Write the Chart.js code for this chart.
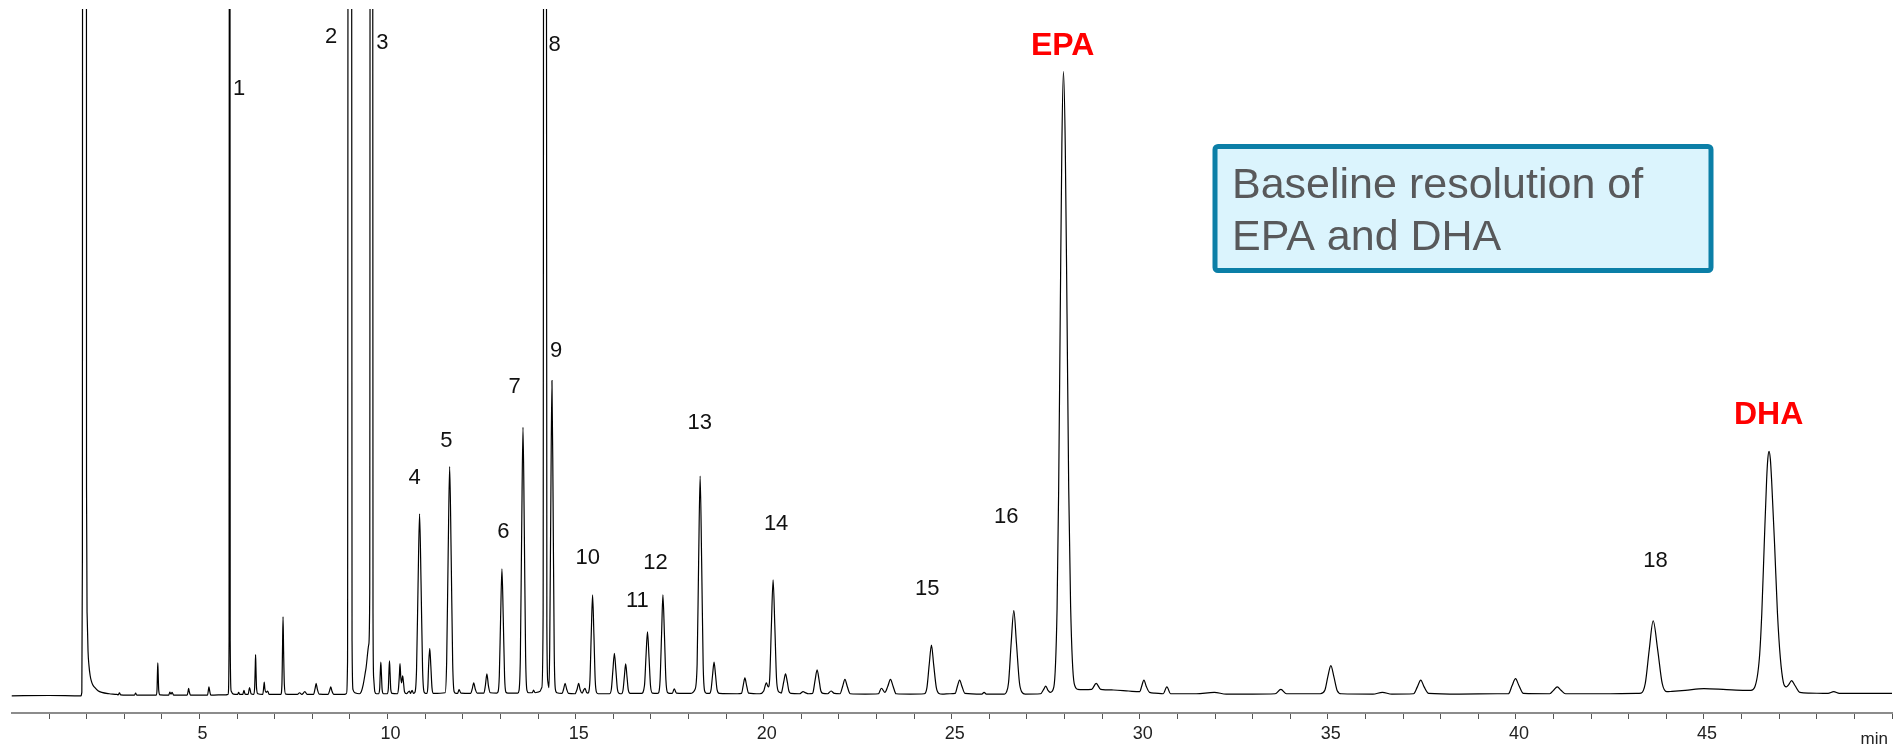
<!DOCTYPE html>
<html>
<head>
<meta charset="utf-8">
<title>GC chromatogram – fatty acid methyl esters</title>
<script src="https://cdn.jsdelivr.net/npm/chart.js@4.4.1/dist/chart.umd.min.js"></script>
<style>
  html, body { margin: 0; padding: 0; background: #ffffff; }
  canvas { display: block; }
</style>
</head>
<body>
<canvas id="chrom" width="1898" height="747"></canvas>
<script>
// Detector trace: [retention time (min), signal (arbitrary units)]
const chromatogram = [
  [0, 0], [1.0, 0.05], [1.85, 0],
  // solvent front
  [1.87, 0.5], [1.885, 20], [1.893, 200], [1.99, 200], [1.995, 30], [2.01, 12], [2.035, 6.5],
  [2.06, 4.4], [2.09, 3.0], [2.12, 2.2], [2.16, 1.6], [2.2, 1.3], [2.3, 0.75], [2.4, 0.5],
  [2.6, 0.3], [2.8, 0.2],
  [2.84, 0.15], [2.87, 0.45], [2.9, 0.15], [3.27, 0.1], [3.30, 0.4], [3.33, 0.1], [3.8, 0.1],
  [3.85, 0.1], [3.87, 1.0], [3.88, 3.2], [3.89, 4.8], [3.90, 3.2], [3.915, 0.8], [3.95, 0.15],
  [4.18, 0.1], [4.21, 0.55], [4.24, 0.25], [4.27, 0.5], [4.31, 0.1],
  [4.67, 0.1], [4.70, 0.8], [4.71, 1.1], [4.72, 0.8], [4.76, 0.1],
  [5.21, 0.1], [5.24, 1.0], [5.25, 1.3], [5.26, 1.0], [5.30, 0.1], [5.7, 0.15],
  // peak 1
  [5.76, 0.2], [5.785, 8], [5.795, 200], [5.805, 200], [5.815, 8], [5.84, 0.7], [5.9, 0.25],
  [6.01, 0.2], [6.04, 0.5], [6.07, 0.2], [6.15, 0.2], [6.18, 0.8], [6.21, 0.25],
  [6.29, 0.2], [6.33, 1.2], [6.37, 0.3],
  [6.44, 0.2], [6.465, 1.2], [6.48, 4.0], [6.49, 6.0], [6.50, 4.0], [6.515, 1.2], [6.55, 0.3],
  [6.68, 0.2], [6.71, 1.5], [6.72, 2.0], [6.735, 1.1], [6.77, 0.5], [6.81, 0.7], [6.85, 0.2],
  [7.16, 0.2], [7.19, 1.6], [7.205, 6.5], [7.22, 11.5], [7.235, 6.5], [7.255, 1.6], [7.29, 0.25],
  [7.6, 0.2], [7.66, 0.45], [7.72, 0.2], [7.80, 0.6], [7.86, 0.2],
  [8.03, 0.2], [8.07, 1.0], [8.10, 1.8], [8.13, 1.0], [8.18, 0.25],
  [8.42, 0.2], [8.46, 0.8], [8.49, 1.3], [8.52, 0.7], [8.57, 0.2], [8.85, 0.2],
  // peak 2
  [8.90, 0.3], [8.935, 5], [8.957, 200], [9.035, 200], [9.055, 8], [9.08, 0.9], [9.15, 0.4],
  [9.25, 0.3], [9.30, 0.6],
  // shoulder and peak 3
  [9.35, 1.6], [9.42, 3.8], [9.50, 7.5], [9.525, 15], [9.542, 200], [9.598, 200], [9.612, 12],
  [9.63, 2.6], [9.66, 0.6], [9.70, 0.3],
  [9.76, 0.3], [9.79, 1.1], [9.805, 3.3], [9.82, 4.9], [9.835, 3.3], [9.855, 0.9], [9.89, 0.3],
  [9.99, 0.3], [10.02, 1.1], [10.035, 3.4], [10.05, 5.1], [10.065, 3.4], [10.085, 0.9], [10.12, 0.35],
  [10.26, 0.3], [10.29, 1.1], [10.315, 3.2], [10.33, 4.7], [10.35, 2.7], [10.37, 1.9], [10.40, 2.9],
  [10.42, 2.1], [10.45, 0.6], [10.50, 0.3],
  [10.58, 0.7], [10.61, 0.35], [10.65, 0.8], [10.69, 0.35],
  // peak 4
  [10.73, 0.55], [10.77, 3.9], [10.81, 16.2], [10.85, 26.5], [10.89, 16.2], [10.93, 3.9], [10.97, 0.55], [11.01, 0.35],
  [11.04, 0.35], [11.07, 1.3], [11.09, 4.3], [11.12, 6.9], [11.15, 4.3], [11.18, 1.2], [11.22, 0.35],
  // peak 5
  [11.53, 0.45], [11.57, 4.9], [11.61, 20.5], [11.65, 33.4], [11.69, 20.5], [11.73, 4.9], [11.77, 0.6], [11.82, 0.35],
  [11.86, 0.35], [11.90, 0.9], [11.95, 0.4],
  [12.21, 0.35], [12.25, 1.0], [12.29, 1.9], [12.33, 1.0], [12.38, 0.4],
  [12.56, 0.4], [12.60, 1.5], [12.64, 3.2], [12.68, 1.5], [12.73, 0.45],
  // peak 6
  [12.90, 0.4], [12.935, 0.55], [12.97, 2.9], [13.005, 11.4], [13.04, 18.5], [13.075, 11.4], [13.11, 2.9], [13.145, 0.55], [13.2, 0.4],
  // peak 7
  [13.46, 0.4], [13.495, 0.8], [13.53, 5.7], [13.565, 24.0], [13.60, 39.1], [13.635, 24.0], [13.67, 5.7], [13.705, 0.8], [13.75, 0.45],
  [13.85, 0.45], [13.88, 0.85], [13.92, 0.45], [14.0, 0.55],
  // peak 8
  [14.05, 0.65], [14.1, 1.2], [14.135, 12], [14.157, 200], [14.213, 200], [14.235, 10], [14.26, 2.1], [14.29, 1.2],
  // peak 9
  [14.31, 6.8], [14.34, 28.3], [14.37, 45.9], [14.40, 28.3], [14.43, 6.6], [14.46, 1.0], [14.50, 0.45],
  [14.64, 0.35], [14.68, 1.0], [14.72, 1.8], [14.76, 1.0], [14.81, 0.35],
  [14.98, 0.3], [15.04, 1.0], [15.08, 1.8], [15.12, 0.9], [15.17, 0.4], [15.22, 0.9], [15.25, 1.1], [15.29, 0.5], [15.33, 0.4],
  // peak 10
  [15.345, 0.5], [15.38, 2.3], [15.415, 9.0], [15.45, 14.7], [15.485, 9.0], [15.52, 2.3], [15.555, 0.5], [15.6, 0.3],
  [15.9, 0.3], [15.95, 1.0], [15.99, 3.7], [16.03, 6.2], [16.07, 3.7], [16.11, 1.0], [16.16, 0.35],
  [16.22, 0.3], [16.26, 0.85], [16.295, 2.8], [16.33, 4.65], [16.365, 2.8], [16.40, 0.85], [16.45, 0.35],
  // peak 11
  [16.75, 0.35], [16.83, 1.5], [16.87, 5.7], [16.91, 9.3], [16.95, 5.7], [16.99, 1.5], [17.04, 0.4],
  // peak 12
  [17.17, 0.35], [17.21, 0.5], [17.245, 2.3], [17.285, 9.0], [17.32, 14.7], [17.36, 9.0], [17.40, 2.3], [17.44, 0.5], [17.5, 0.35],
  [17.57, 0.35], [17.62, 1.0], [17.68, 0.4], [18.05, 0.35], [18.17, 0.9],
  // peak 13
  [18.23, 4.6], [18.27, 19.6], [18.31, 32.0], [18.35, 19.6], [18.39, 4.6], [18.43, 0.7], [18.48, 0.35],
  [18.56, 0.35], [18.60, 0.9], [18.64, 3.0], [18.68, 4.9], [18.72, 3.0], [18.76, 0.9], [18.82, 0.35],
  [19.3, 0.3], [19.41, 0.35], [19.455, 1.5], [19.50, 2.6], [19.545, 1.5], [19.6, 0.4], [19.9, 0.3],
  // peak 14
  [20.0, 0.7], [20.07, 1.9], [20.12, 1.3], [20.16, 2.6], [20.205, 10.3], [20.25, 16.9], [20.295, 10.3], [20.34, 2.6], [20.385, 0.7], [20.43, 0.5],
  [20.47, 0.4], [20.49, 0.8], [20.535, 2.1], [20.58, 3.2], [20.625, 2.1], [20.67, 0.7], [20.72, 0.35],
  [20.95, 0.3], [21.05, 0.6], [21.09, 0.5], [21.2, 0.3],
  [21.30, 0.35], [21.32, 0.7], [21.37, 2.4], [21.42, 3.8], [21.47, 2.4], [21.52, 0.7], [21.58, 0.35],
  [21.70, 0.3], [21.79, 0.7], [21.88, 0.35],
  [22.03, 0.3], [22.10, 1.4], [22.16, 2.4], [22.22, 1.4], [22.30, 0.3], [22.7, 0.25],
  [23.05, 0.3], [23.13, 1.1], [23.22, 0.5], [23.30, 1.4], [23.37, 2.4], [23.44, 1.4], [23.52, 0.3], [23.9, 0.25],
  // peak 15
  [24.27, 0.3], [24.34, 1.2], [24.40, 4.5], [24.46, 7.4], [24.52, 4.5], [24.59, 1.2], [24.66, 0.35], [24.75, 0.25],
  [24.95, 0.3], [25.09, 0.35], [25.15, 1.4], [25.21, 2.3], [25.27, 1.4], [25.35, 0.35],
  [25.8, 0.25], [25.86, 0.5], [25.92, 0.25],
  // peak 16
  [26.40, 0.25], [26.45, 0.5], [26.51, 1.9], [26.58, 7.7], [26.65, 12.4], [26.72, 7.7], [26.80, 1.9], [26.87, 0.5], [26.95, 0.25],
  [27.36, 0.3], [27.44, 0.9], [27.50, 1.4], [27.56, 0.8],
  // EPA
  [27.62, 0.5], [27.715, 1.3], [27.80, 12.6], [27.842, 29.8], [27.885, 55.6], [27.928, 80.2], [27.97, 90.9],
  [28.018, 80.2], [28.065, 55.6], [28.11, 30.2], [28.16, 13.1], [28.255, 1.8], [28.35, 0.95],
  [28.5, 0.9], [28.72, 0.95], [28.84, 1.8], [28.96, 0.95], [29.3, 0.85], [29.7, 0.7], [30.0, 0.6],
  [30.05, 1.4], [30.11, 2.3], [30.17, 1.4], [30.26, 0.5], [30.4, 0.4],
  [30.62, 0.3], [30.72, 1.3], [30.82, 0.3],
  [31.5, 0.3], [31.98, 0.5], [32.3, 0.25], [33.0, 0.25], [33.6, 0.3], [33.75, 0.95], [33.9, 0.3],
  [34.8, 0.3], [34.92, 0.8], [35.0, 2.8], [35.08, 4.4], [35.16, 2.8], [35.25, 0.75], [35.36, 0.3],
  [36.2, 0.25], [36.45, 0.5], [36.7, 0.25],
  [37.28, 0.3], [37.38, 1.3], [37.47, 2.3], [37.56, 1.3], [37.68, 0.35],
  [38.5, 0.25], [39.5, 0.3],
  [39.80, 0.3], [39.90, 1.5], [39.99, 2.5], [40.08, 1.5], [40.2, 0.35],
  [40.9, 0.3], [41.0, 0.8], [41.10, 1.3], [41.2, 0.8], [41.32, 0.3],
  [42.3, 0.3], [43.2, 0.35],
  // peak 18
  [43.33, 0.4], [43.44, 1.8], [43.545, 6.7], [43.65, 10.9], [43.77, 6.7], [43.89, 1.8], [44.01, 0.6], [44.15, 0.65],
  [44.5, 0.8], [45.0, 1.05], [45.6, 0.9], [46.1, 0.8],
  // DHA
  [46.25, 0.8], [46.346, 1.2], [46.474, 5.5], [46.538, 12.0], [46.602, 21.9], [46.666, 31.4], [46.698, 34.5], [46.73, 35.6],
  [46.765, 34.5], [46.80, 31.3], [46.88, 21.8], [46.955, 12.0], [47.03, 5.6], [47.11, 2.0], [47.19, 1.3],
  [47.25, 1.6], [47.33, 2.2], [47.42, 1.5], [47.55, 0.5], [47.8, 0.4],
  [48.3, 0.35], [48.45, 0.6], [48.6, 0.35], [49.3, 0.35], [50, 0.35]
];

// Peak numbering: label text, retention time and signal level where the label sits
const peakNames  = ['1', '2', '3', '4', '5', '6', '7', '8', '9', '10', '11', '12', '13', '14', '15', '16', '18'];
const peakLabelT = [6.05, 8.50, 9.86, 10.72, 11.56, 13.08, 13.38, 14.44, 14.48, 15.32, 16.64, 17.12, 18.30, 20.33, 24.35, 26.45, 43.71];
const peakLabelY = [88.3, 95.9, 95.1, 31.7, 37.1, 23.9, 45.0, 94.7, 50.2, 20.1, 13.8, 19.4, 39.7, 25.0, 15.6, 26.0, 19.7];

// Highlighted analytes
const keyNames  = ['EPA', 'DHA'];
const keyLabelT = [27.95, 46.72];
const keyLabelY = [94.6, 40.9];

// Time axis
const timeMin = 0;
const timeMax = 50;
const labelledTicks = [5, 10, 15, 20, 25, 30, 35, 40, 45];

const FONT = '"Liberation Sans", Arial, Helvetica, sans-serif';

const annotationPlugin = {
  id: 'chromAnnotations',
  afterDraw(chart) {
    const { ctx, scales: { x, y } } = chart;
    ctx.save();

    // peak numbers
    ctx.fillStyle = '#111111';
    ctx.font = '22px ' + FONT;
    ctx.textAlign = 'center';
    ctx.textBaseline = 'middle';
    peakNames.forEach((name, i) => {
      ctx.fillText(name, x.getPixelForValue(peakLabelT[i]), y.getPixelForValue(peakLabelY[i]));
    });

    // EPA / DHA
    ctx.fillStyle = '#ff0000';
    ctx.font = 'bold 32px ' + FONT;
    keyNames.forEach((name, i) => {
      ctx.fillText(name, x.getPixelForValue(keyLabelT[i]), y.getPixelForValue(keyLabelY[i]));
    });

    // unit at the end of the time axis
    ctx.fillStyle = '#222222';
    ctx.font = '17px ' + FONT;
    ctx.textAlign = 'right';
    ctx.textBaseline = 'alphabetic';
    ctx.fillText('min', x.getPixelForValue(timeMax) - 4, 743.5);

    // call-out box
    const bx = 1215, by = 146.5, bw = 496, bh = 124;
    ctx.beginPath();
    ctx.roundRect(bx, by, bw, bh, 3);
    ctx.fillStyle = '#dbf4fd';
    ctx.fill();
    ctx.lineWidth = 5;
    ctx.strokeStyle = '#0b7fa7';
    ctx.stroke();
    ctx.fillStyle = '#58595b';
    ctx.font = '43px ' + FONT;
    ctx.textAlign = 'left';
    ctx.fillText('Baseline resolution of', 1232, 198);
    ctx.fillText('EPA and DHA', 1232, 250);

    ctx.restore();
  }
};

new Chart(document.getElementById('chrom'), {
  type: 'line',
  data: {
    datasets: [{
      data: chromatogram.map(([t, v]) => ({ x: t, y: v })),
      borderColor: '#000000',
      borderWidth: 1.2,
      pointRadius: 0,
      cubicInterpolationMode: 'monotone',
      fill: false
    }]
  },
  options: {
    responsive: false,
    animation: false,
    events: [],
    layout: { padding: { left: 11.5, right: 0, top: 9, bottom: 0 } },
    plugins: { legend: { display: false }, tooltip: { enabled: false } },
    scales: {
      x: {
        type: 'linear',
        min: timeMin,
        max: timeMax,
        position: 'bottom',
        border: { display: true, color: '#8c8c8c', width: 2 },
        grid: {
          display: true,
          drawOnChartArea: false,
          drawTicks: true,
          tickLength: 6,
          tickWidth: 1,
          tickColor: (c) => (c.tick && c.tick.value === timeMin) ? 'rgba(0,0,0,0)' : '#555555'
        },
        ticks: {
          stepSize: 1,
          autoSkip: false,
          maxRotation: 0,
          padding: 6,
          labelOffset: 3,
          color: '#222222',
          font: { family: FONT, size: 18, lineHeight: 1 },
          callback: (v) => labelledTicks.includes(v) ? String(v) : ''
        },
        afterFit: (s) => { s.height = 34; }
      },
      y: {
        display: false,
        min: -2.5,
        max: 100
      }
    }
  },
  plugins: [annotationPlugin]
});
</script>
</body>
</html>
